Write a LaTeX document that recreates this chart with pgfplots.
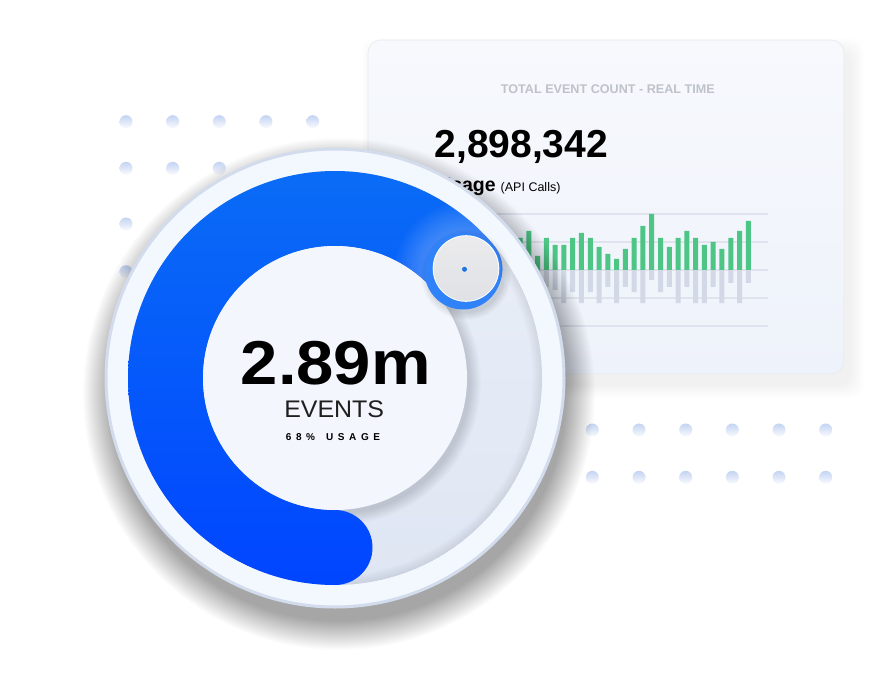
\documentclass[border=0pt]{standalone}
\usepackage{pgfplots}
\pgfplotsset{compat=1.18}
\usepackage{fontspec}
\setmainfont{Liberation Sans}
\definecolor{cardA}{HTML}{F7F9FD}
\definecolor{cardB}{HTML}{EEF2FA}
\definecolor{cardEdge}{HTML}{E6EAF2}
\definecolor{gridc}{HTML}{DEE3EE}
\definecolor{barg}{HTML}{4CC585}
\definecolor{barn}{HTML}{D2D8E6}
\definecolor{titlec}{HTML}{BEC2CA}
\definecolor{dotA}{HTML}{C3D3F2}
\definecolor{dotB}{HTML}{FAFBFE}
\definecolor{ringOut}{HTML}{F3F7FE}
\definecolor{ringEdge}{HTML}{D3DCEC}
\definecolor{trackA}{HTML}{EAEFF8}
\definecolor{trackB}{HTML}{DFE6F3}
\definecolor{blueA}{HTML}{0A6CF6}
\definecolor{blueB}{HTML}{0045FF}
\definecolor{innerc}{HTML}{F3F6FD}
\definecolor{knobA}{HTML}{EBEBED}
\definecolor{knobB}{HTML}{E0E1E5}
\definecolor{dotblue}{HTML}{1E74E0}
\begin{document}
\begin{tikzpicture}
\begin{scope}[x=1pt,y=-1pt]
\useasboundingbox (0,0) rectangle (880,690);
\fill[white] (0,0) rectangle (880,690);
% background dots
\foreach \x/\y in {126/121.7,172.7/121.7,219.3/121.7,266/121.7,312.7/121.7,126/168.3,172.7/168.3,219.3/168.3,126/224,126/271.7}
  \shade[top color=dotA,bottom color=dotB] (\x,\y) circle[radius=6.5];
\foreach \x in {592.3,639,685.7,732.3,779,825.7}
  \foreach \y in {430,477.3}
    \shade[top color=dotA,bottom color=dotB] (\x,\y) circle[radius=6.5];
% card shadow
\foreach \i in {1,...,14}
  \fill[black,opacity=0.005,rounded corners=13pt] (376-\i,52-\i) rectangle (850+\i,384+\i);
% card
\shade[rounded corners=13pt,top color=cardA,bottom color=cardB,draw=cardEdge,line width=0.6pt] (368,40) rectangle (844,374);
\node[anchor=base,inner sep=0,text=titlec] at (607.8,93.3) {\bfseries\fontsize{12.6}{13}\selectfont TOTAL EVENT COUNT - REAL TIME};
\node[anchor=base west,inner sep=0] at (434.3,157.3) {\bfseries\fontsize{39}{40}\selectfont 2,898,342};
\node[anchor=base west,inner sep=0] at (437,191.7) {{\bfseries\fontsize{19.5}{20}\selectfont Usage}\hspace{5pt}{\fontsize{12.5}{13}\selectfont (API Calls)}};
\end{scope}
% bar chart
\begin{axis}[at={(441pt,-326pt)},anchor=south west,scale only axis,
  width=327.06pt,height=112pt,xmin=-8,xmax=29.25,ymin=-56,ymax=56,
  axis line style={draw=none},major tick style={draw=none},
  xtick=\empty,ytick={-56,-28,0,28,56},yticklabels={},
  ymajorgrids,grid style={gridc,line width=1.2pt},clip=false]
\addplot[ybar,bar width=5pt,bar shift=0pt,fill=barn,draw=none] coordinates {
(1,-17)(2,-33)(3,-21)(4,-17)(5,-20)(6,-33)(7,-22)(8,-33)(9,-22)(10,-33)
(11,-17)(12,-33)(13,-17)(14,-22)(15,-33)(16,-10)(17,-22)(18,-17)(19,-33)(20,-17)
(21,-33)(22,-33)(23,-17)(24,-33)(25,-13)(26,-33)(27,-13)};
\addplot[ybar,bar width=5pt,bar shift=0pt,fill=barg,draw=none] coordinates {
(1,32)(2,39)(3,14)(4,32)(5,25)(6,25)(7,32)(8,37)(9,32)(10,23)
(11,16)(12,11)(13,21)(14,32)(15,44)(16,56)(17,32)(18,23)(19,32)(20,39)
(21,32)(22,25)(23,28)(24,21)(25,32)(26,39)(27,49)};
\end{axis}
% donut gauge
\begin{scope}[shift={(335pt,-378pt)},x=1pt,y=1pt]
\foreach \i in {1,...,30}
  \fill[black,opacity=0.011] (4,-16) circle[radius=226+\i];
\fill[ringOut,draw=ringEdge,line width=3pt] (0,0) circle[radius=229];
\shade[top color=trackA,bottom color=trackB] (0,0) circle[radius=207];
\foreach \i in {1,...,10}
  \fill[black,opacity=0.008,even odd rule] (0,0) circle[radius=207] (0,0) circle[radius=207-\i];
\foreach \i in {1,...,12}
  \fill[black,opacity=0.011] (3,-4) circle[radius=131+\i];
\def\bluepath{(270:207) arc[start angle=270,end angle=40,radius=207]
  arc[start angle=40,end angle=-140,radius=37.5]
  arc[start angle=40,end angle=270,radius=132]
  arc[start angle=90,end angle=-90,radius=37.5] -- cycle}
\shade[top color=blueA,bottom color=blueB] \bluepath;
\begin{scope}
\clip \bluepath;
\foreach \i in {1,...,12}
  \fill[white,opacity=0.022] (128,107) circle[radius=38+2.5*\i];
\end{scope}
\fill[innerc] (0,0) circle[radius=132];
\foreach \i in {1,...,8}
  \fill[black,opacity=0.015] (131,103) circle[radius=37+\i];
\fill[blueA!85!white] (128,107) circle[radius=38.5];
\fill[white] (131,109.5) circle[radius=33.3];
\shade[top color=knobA,bottom color=knobB] (131,109.5) circle[radius=32.3];
\fill[dotblue] (129.5,108.7) circle[radius=2.5];
\end{scope}
\begin{scope}[x=1pt,y=-1pt]
\node[anchor=base,inner sep=0] at (335.8,384) {\scalebox{1.08}[1]{\bfseries\fontsize{62}{62}\selectfont 2.89m}};
\node[anchor=base,inner sep=0,text=black!88] at (334.2,417.3) {\scalebox{1.04}[1]{\fontsize{24}{24}\selectfont EVENTS}};
\node[anchor=base,inner sep=0] at (333,440.7) {\bfseries\fontsize{10}{10}\selectfont 6\kern4.6pt8\kern4.6pt\%\kern11pt U\kern4.6pt S\kern4.6pt A\kern4.6pt G\kern4.6pt E};
\end{scope}
\end{tikzpicture}
\end{document}
